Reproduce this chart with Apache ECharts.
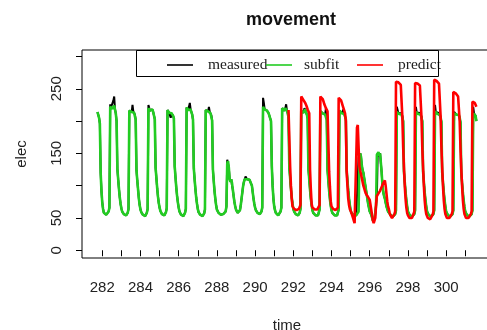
<!DOCTYPE html>
<html>
<head>
<meta charset="utf-8">
<script src="https://cdn.jsdelivr.net/npm/echarts@6/dist/echarts.min.js"></script>
<style>
  html, body { margin: 0; padding: 0; background: #fff; }
  #chart { width: 487px; height: 330px; }
</style>
</head>
<body>
<div id="chart"></div>
<script>
// Hourly electricity readings; the first reading is day 281, 18:00.
const seriesStart = 281 + 18 / 24;
// Predictions begin on day 291 at 18:00.
const predictStart = 291 + 18 / 24;
const hourStep = 1 / 24;

const measured = [
  214,212,205,196,120,92,74,
  64,58,56,55,55,54,55,60,66,226,221,220,219,232,238,218,212,200,126,110,95,82,72,65,
  60,57,56,55,55,54,55,58,64,216,218,215,214,225,215,213,210,202,124,108,94,80,70,63,
  59,56,55,54,54,53,55,58,64,225,222,216,215,214,218,214,211,203,128,112,96,83,73,66,
  61,58,56,55,54,54,55,59,65,217,216,213,212,205,212,210,208,204,130,113,97,84,74,66,
  60,57,55,54,54,53,54,58,64,221,219,217,216,228,218,214,210,202,127,110,95,82,72,64,
  59,56,55,54,53,53,54,57,63,217,218,216,215,222,214,212,209,201,125,108,92,80,70,63,
  60,58,56,55,55,54,55,56,57,58,60,68,140,139,128,110,106,110,100,94,84,75,68,63,
  60,58,57,58,62,70,80,90,100,106,110,114,111,110,112,110,109,108,106,100,90,80,72,66,
  62,60,58,57,56,56,57,60,66,236,228,218,217,219,216,214,212,208,205,200,130,100,80,68,
  62,58,56,55,54,54,55,60,66,220,219,218,216,220,226,216,212,205,128,112,96,82,72,64,
  60,57,56,55,54,54,55,58,64,216,215,214,213,220,218,214,210,204,126,110,94,80,70,62,
  58,56,55,54,53,53,54,57,63,215,214,213,212,214,212,210,220,202,124,108,92,79,69,62,
  58,56,55,54,53,53,54,57,63,216,215,213,212,215,218,211,208,203,125,108,93,80,70,62,
  58,56,55,54,53,53,54,55,56,144,140,150,145,132,124,120,112,104,96,88,80,72,66,60,
  58,55,50,46,44,50,58,70,84,150,152,146,150,148,120,100,90,84,80,74,68,64,60,58,
  58,55,54,53,52,52,53,56,62,222,220,212,211,214,212,210,208,200,122,106,90,78,68,60,
  57,55,54,53,52,52,53,56,62,222,213,212,211,213,212,210,207,200,122,106,90,78,68,60,
  57,55,54,53,52,52,53,56,62,225,214,212,211,213,212,210,206,199,121,105,90,78,68,60,
  57,55,54,53,52,52,53,56,62,214,212,211,210,212,211,209,205,198,120,104,89,77,67,60,
  57,55,54,53,52,52,53,56,62,222,212,210,208,200
];

const subfit = [
  214,212,205,196,120,92,74,
  64,58,56,55,55,54,55,60,66,222,221,220,219,222,224,218,212,200,126,110,95,82,72,65,
  60,57,56,55,55,54,55,58,64,216,218,215,214,217,215,213,210,202,124,108,94,80,70,63,
  59,56,55,54,54,53,55,58,64,220,219,216,215,214,218,214,211,203,128,112,96,83,73,66,
  61,58,56,55,54,54,55,59,65,217,216,213,212,214,212,210,208,204,130,113,97,84,74,66,
  60,57,55,54,54,53,54,58,64,221,219,217,216,220,218,214,210,202,127,110,95,82,72,64,
  59,56,55,54,53,53,54,57,63,217,218,216,215,217,214,212,209,201,125,108,92,80,70,63,
  60,58,56,55,55,54,55,56,57,58,60,68,134,138,128,110,106,110,104,94,84,75,68,63,
  60,58,57,58,62,70,80,90,100,106,110,112,111,110,112,110,109,108,106,100,90,80,72,66,
  62,60,58,57,56,56,57,60,66,222,220,218,217,219,216,214,212,208,205,200,130,100,80,68,
  62,58,56,55,54,54,55,60,66,220,219,218,216,220,222,216,212,205,128,112,96,82,72,64,
  60,57,56,55,54,54,55,58,64,216,215,214,213,216,218,214,210,204,126,110,94,80,70,62,
  58,56,55,54,53,53,54,57,63,215,214,213,212,214,212,210,208,202,124,108,92,79,69,62,
  58,56,55,54,53,53,54,57,63,216,215,213,212,215,213,211,208,203,125,108,93,80,70,62,
  58,56,55,54,53,53,54,55,56,60,140,150,145,132,124,120,112,104,96,88,80,72,66,60,
  58,55,50,46,44,50,58,70,148,150,152,146,150,148,120,100,90,84,80,74,68,64,60,58,
  58,55,54,53,52,52,53,56,62,214,213,212,211,214,212,210,208,200,122,106,90,78,68,60,
  57,55,54,53,52,52,53,56,62,214,213,212,211,213,212,210,207,200,122,106,90,78,68,60,
  57,55,54,53,52,52,53,56,62,215,214,212,211,213,212,210,206,199,121,105,90,78,68,60,
  57,55,54,53,52,52,53,56,62,212,212,211,210,212,211,209,205,198,120,104,89,77,67,60,
  57,55,54,53,52,52,53,56,62,212,212,210,208,200
];

const predict = [
  217,214,130,100,80,68,
  66,64,63,62,62,62,63,64,66,70,238,240,236,232,230,228,225,222,218,215,212,125,95,72,
  66,65,64,63,62,62,63,64,66,70,238,240,238,234,230,226,224,220,218,215,212,122,98,76,
  68,65,64,63,62,62,63,64,66,236,238,236,232,228,224,220,216,212,200,122,100,80,70,64,
  62,58,54,50,46,42,41,44,190,194,160,130,123,118,112,106,100,96,92,88,86,84,82,81,
  78,70,62,54,46,42,41,50,72,84,86,88,90,92,95,98,100,104,107,108,100,88,76,68,
  64,58,54,51,50,50,52,56,60,261,261,260,260,259,258,256,254,206,160,128,100,80,66,58,
  54,51,50,50,50,50,52,56,60,259,259,258,258,257,256,255,252,206,160,128,100,78,64,56,
  53,50,49,48,48,48,50,55,60,264,264,263,262,262,260,258,255,208,162,128,100,78,64,56,
  53,50,49,49,50,50,52,56,60,245,245,244,243,242,240,238,235,200,158,126,100,78,64,56,
  53,50,49,49,50,50,52,56,60,230,230,229,228,226,222
];

// Axis ticks and labels
const xTicks = [282,283,284,285,286,287,288,289,290,291,292,293,294,295,296,297,298,299,300,301];
const xLabels = [282,284,286,288,290,292,294,296,298,300];
const yTicks = [0,50,100,150,200,250,300];
const yLabels = [0,50,150,250];

function pairs(start, values) {
  return values.map((v, i) => [start + i * hourStep, v]);
}

const sans = '"Liberation Sans", Arial, sans-serif';
const serif = '"Liberation Serif", "Times New Roman", serif';

const chart = echarts.init(document.getElementById('chart'), null, { renderer: 'canvas' });

function legendFor(name, left, gap) {
  return {
    data: [name],
    left: left,
    top: 57,
    padding: 0,
    icon: 'rect',
    itemWidth: 26,
    itemHeight: 1.6,
    selectedMode: false,
    textStyle: { fontFamily: serif, fontSize: 15.5, color: '#222', padding: [5, 0, 0, gap] }
  };
}

chart.setOption({
  animation: false,
  backgroundColor: '#fff',
  title: {
    text: 'movement',
    left: 286,
    top: 6,
    textAlign: 'center',
    textStyle: { fontFamily: sans, fontSize: 18, fontWeight: 'bold', color: '#111' }
  },
  legend: [
    legendFor('measured', 167, 10),
    legendFor('subfit', 266, 7),
    legendFor('predict', 357, 10)
  ],
  grid: {
    left: 82, right: -5, top: 50, bottom: 72,
    outerBoundsMode: 'none',
    show: true, borderColor: '#000', borderWidth: 1, backgroundColor: 'transparent'
  },
  xAxis: {
    type: 'value',
    min: 280.94,
    max: 302.4,
    axisLine: { show: false },
    splitLine: { show: false },
    axisTick: { show: true, length: 6, customValues: xTicks, lineStyle: { color: '#000' } },
    axisLabel: { customValues: xLabels, fontFamily: sans, fontSize: 15, color: '#222', margin: 22 },
    name: 'time',
    nameLocation: 'middle',
    nameGap: 60,
    nameTextStyle: { fontFamily: sans, fontSize: 15, color: '#222' }
  },
  yAxis: {
    type: 'value',
    min: -12,
    max: 310,
    axisLine: { show: false },
    splitLine: { show: false },
    axisTick: { show: true, length: 6, customValues: yTicks, lineStyle: { color: '#000' } },
    axisLabel: { customValues: yLabels, rotate: 90, fontFamily: sans, fontSize: 15, color: '#222', margin: 18 },
    name: 'elec',
    nameLocation: 'middle',
    nameGap: 53,
    nameRotate: 90,
    nameTextStyle: { fontFamily: sans, fontSize: 15, color: '#222' }
  },
  graphic: [{
    type: 'rect',
    z: 100,
    shape: { x: 136.5, y: 50.5, width: 302, height: 26 },
    style: { fill: null, stroke: '#000', lineWidth: 1 }
  }],
  series: [
    {
      name: 'measured', type: 'line', data: pairs(seriesStart, measured),
      symbol: 'none', color: '#000', lineStyle: { width: 2, color: '#000' }, z: 1
    },
    {
      name: 'subfit', type: 'line', data: pairs(seriesStart, subfit),
      symbol: 'none', color: '#22cc22', lineStyle: { width: 2.6, color: '#22cc22' }, z: 2
    },
    {
      name: 'predict', type: 'line', data: pairs(predictStart, predict),
      symbol: 'none', color: '#f00', lineStyle: { width: 2.6, color: '#f00' }, z: 3
    }
  ]
});
</script>
</body>
</html>
